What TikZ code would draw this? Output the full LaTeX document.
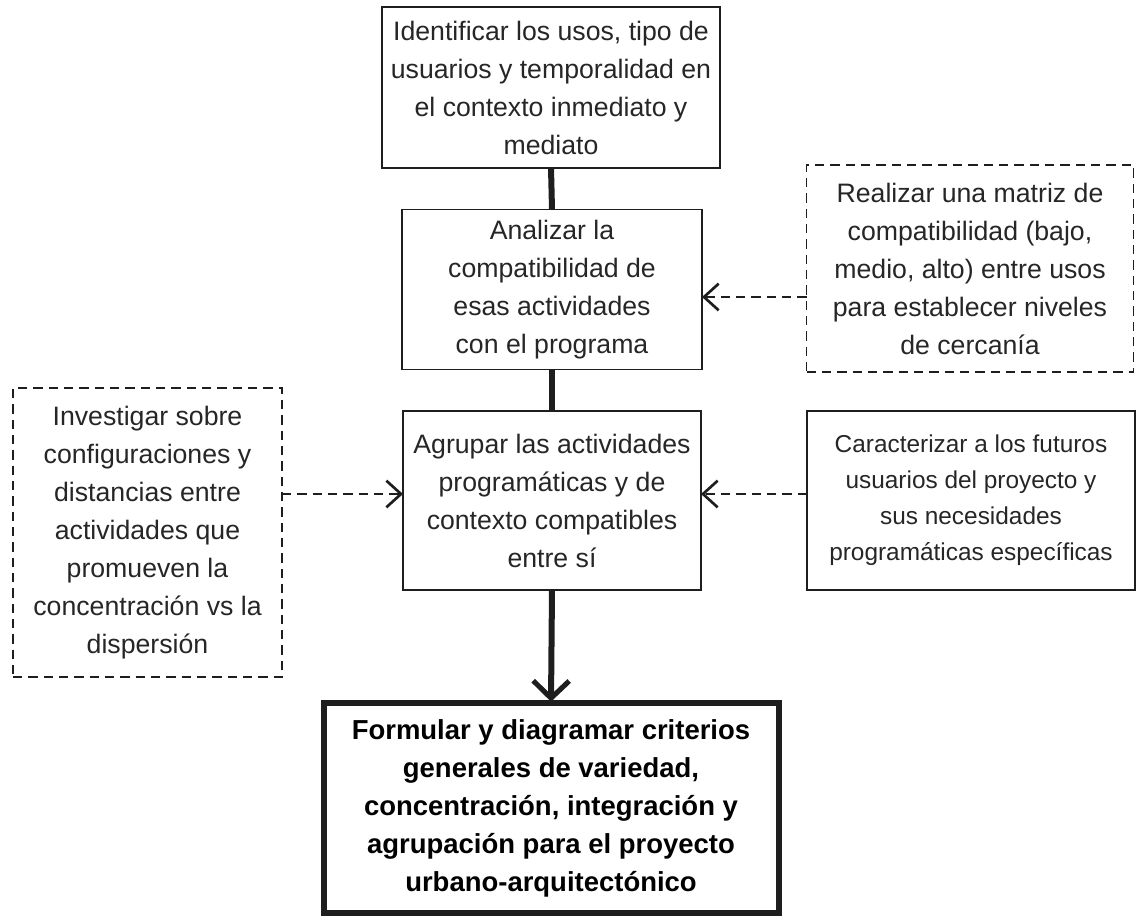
\documentclass[tikz,border=0pt]{standalone}
\usepackage{fontspec}
\setmainfont{Liberation Sans}
\usetikzlibrary{arrows.meta}
\definecolor{ln}{HTML}{1E1E1E}
\definecolor{tx}{HTML}{262626}
\newcommand{\mainfs}{\fontsize{20}{28.5}\selectfont}
\newcommand{\smallfs}{\fontsize{18.3}{27}\selectfont}
\newcommand{\boldfs}{\fontsize{20.6}{28.5}\selectfont\bfseries}
\tikzset{
  box/.style={draw=ln, line width=1.3pt, align=center, inner sep=0pt, outer sep=0pt, text=tx, font=\mainfs},
  dbox/.style={box, line width=1.1pt, dash pattern=on 7pt off 4.5pt},
  mainbox/.style={box, line width=4.5pt, text=black, font=\boldfs},
  stem/.style={draw=ln, line width=4.5pt},
  bigarrow/.style={draw=ln, line width=4.5pt, -{Straight Barb[length=13pt, width=27pt, line width=3.8pt]}},
  dasharrow/.style={draw=ln, line width=1.1pt, dash pattern=on 7pt off 4.5pt, -{Straight Barb[length=11pt, width=20pt, line width=2pt]}}
}
\begin{document}
\begin{tikzpicture}[x=0.75pt, y=-0.75pt]
\useasboundingbox (0,0) rectangle (1137,919);

\node[box, minimum width=338*0.75pt, minimum height=161*0.75pt] (b1) at (551,87.5)
  {Identificar los usos, tipo de\\usuarios y temporalidad en\\el contexto inmediato y\\mediato};
\node[box, minimum width=300*0.75pt, minimum height=160*0.75pt] (b2) at (552,289.5)
  {Analizar la\\compatibilidad de\\esas actividades\\con el programa};
\node[box, minimum width=298*0.75pt, minimum height=179*0.75pt] (b3) at (552,500.5)
  {Agrupar las actividades\\programáticas y de\\contexto compatibles\\entre sí};
\node[mainbox, minimum width=455*0.75pt, minimum height=210*0.75pt] (b4) at (551,808)
  {Formular y diagramar criterios\\generales de variedad,\\concentración, integración y\\agrupación para el proyecto\\urbano-arquitectónico};
\node[dbox, minimum width=269*0.75pt, minimum height=289*0.75pt] (lb) at (147.5,532.5)
  {Investigar sobre\\configuraciones y\\distancias entre\\actividades que\\promueven la\\concentración vs la\\dispersión};
\node[dbox, minimum width=327*0.75pt, minimum height=207*0.75pt] (rt) at (970,268.5)
  {Realizar una matriz de\\compatibilidad (bajo,\\medio, alto) entre usos\\para establecer niveles\\de cercanía};
\node[box, font=\smallfs, minimum width=328*0.75pt, minimum height=179*0.75pt] (rb) at (971,500.5)
  {Caracterizar a los futuros\\usuarios del proyecto y\\sus necesidades\\programáticas específicas};

\draw[stem] (b1.south) -- (b2.north);
\draw[stem] (b2.south) -- (b3.north);
\draw[bigarrow] (b3.south) -- ([yshift=1pt]b4.north);

\draw[dasharrow] (rt.west |- 0,297) -- (b2.east |- 0,297);
\draw[dasharrow] (lb.east |- 0,494) -- (b3.west |- 0,494);
\draw[dasharrow] (rb.west |- 0,494) -- (b3.east |- 0,494);
\end{tikzpicture}
\end{document}
